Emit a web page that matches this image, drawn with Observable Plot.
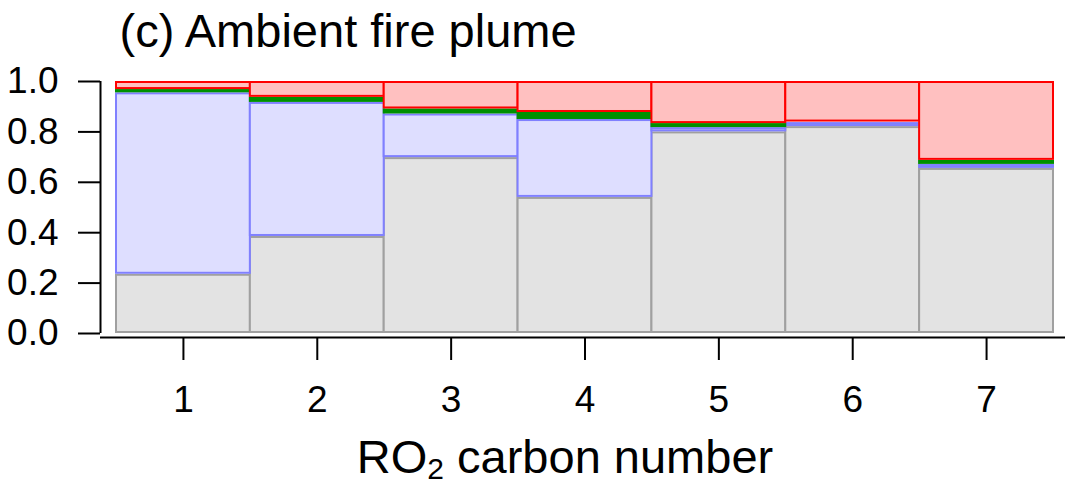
<!DOCTYPE html>
<html><head><meta charset="utf-8">
<script src="https://cdn.jsdelivr.net/npm/d3@7"></script>
<script src="https://cdn.jsdelivr.net/npm/@observablehq/plot@0.6"></script>
<style>body{margin:0;background:#fff;} svg{display:block}</style>
</head><body><div id="chart"></div>
<script>
const carbonNumbers = [1, 2, 3, 4, 5, 6, 7];
const layers = ["grey", "blue", "green", "red"];
const greyFrac  = [0.235, 0.385, 0.698, 0.540, 0.800, 0.821, 0.655];
const blueFrac  = [0.720, 0.532, 0.173, 0.309, 0.017, 0.016, 0.016];
const greenFrac = [0.013, 0.020, 0.020, 0.028, 0.016, 0.002, 0.016];
const redFrac   = [0.032, 0.063, 0.109, 0.123, 0.167, 0.161, 0.313];
const yTicks = [0, 0.2, 0.4, 0.6, 0.8, 1.0];
const title = "(c) Ambient fire plume";
const xLabelParts = ["RO", "2", " carbon number"];

const fills   = {grey: "#e3e3e3", blue: "#dedeff", green: "#009000", red: "#ffc0c0"};
const strokes = {grey: "#a0a0a0", blue: "#8080ff", green: "#009000", red: "#ff0000"};
const fracs = {grey: greyFrac, blue: blueFrac, green: greenFrac, red: redFrac};

const rows = [];
const base = carbonNumbers.map(() => 0);
for (const layer of layers) {
  carbonNumbers.forEach((c, i) => {
    const v = fracs[layer][i];
    rows.push({layer, carbon: c, y1: base[i], y2: base[i] + v});
    base[i] += v;
  });
}

const font = "'Liberation Sans', Arial, Helvetica, sans-serif";

const svg = Plot.plot({
  width: 1066, height: 488,
  marginLeft: 100, marginRight: 1, marginTop: 81, marginBottom: 151,
  style: {fontFamily: font, background: "white", color: "black", overflow: "visible"},
  x: {type: "linear", domain: [0.5, 7.5], insetLeft: 16, insetRight: 12},
  y: {domain: [0, 1], insetBottom: 4},
  marks: [
    ...layers.map(layer => Plot.rect(rows.filter(d => d.layer === layer), {
      x1: d => d.carbon - 0.5, x2: d => d.carbon + 0.5, y1: "y1", y2: "y2",
      insetTop: 1, insetBottom: 1,
      fill: fills[layer], stroke: strokes[layer], strokeWidth: 2
    })),
    Plot.ruleY([0], {dy: 4, stroke: "black", strokeWidth: 2}),
    Plot.ruleX([0.5], {y1: 0, y2: 1, dx: -16, stroke: "black", strokeWidth: 2}),
    Plot.axisX({ticks: carbonNumbers, tickFormat: d => String(d), tickSize: 23, tickPadding: 25,
      fontSize: 37, strokeWidth: 2, label: null, stroke: "black", fill: "black"}),
    Plot.axisY({ticks: yTicks, tickFormat: d3.format(".1f"), tickSize: 22, tickPadding: 20,
      fontSize: 37, strokeWidth: 2, label: null, stroke: "black", fill: "black"}),
    Plot.text([title], {text: d => d, frameAnchor: "top-left", dx: 19, dy: -34.5,
      lineAnchor: "bottom", textAnchor: "start", fontSize: 47, fill: "black"})
  ]
});

const lab = d3.select(svg).append("text")
  .attr("x", 565).attr("y", 473)
  .attr("text-anchor", "middle")
  .attr("font-family", font).attr("font-size", 47).attr("fill", "black");
lab.append("tspan").text(xLabelParts[0]);
lab.append("tspan").attr("dy", 6).attr("font-size", 30).text(xLabelParts[1]);
lab.append("tspan").attr("dy", -6).text(xLabelParts[2]);

document.getElementById("chart").appendChild(svg);
</script>
</body></html>
